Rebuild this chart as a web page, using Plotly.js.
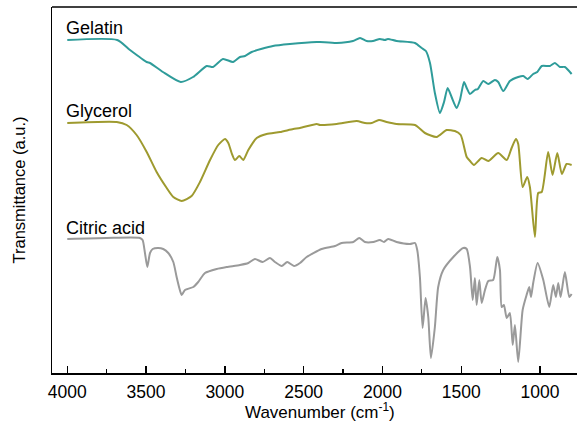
<!DOCTYPE html>
<html>
<head>
<meta charset="utf-8">
<script src="https://cdn.plot.ly/plotly-3.0.1.min.js"></script>
<style>
  html, body { margin: 0; padding: 0; background: #fff; overflow: hidden; }
  #chart { width: 577px; height: 423px; }
</style>
</head>
<body>
<div id="chart"></div>
<script>
// FTIR spectra, offset vertically (transmittance, arbitrary units)

const gelatinWn = [4000, 3683, 3602, 3496, 3475, 3393, 3280, 3202, 3115, 3075, 3012, 2948, 2904, 2872, 2830, 2695, 2587, 2417, 2396, 2290, 2187, 2142, 2100, 2060, 2016, 1984, 1965, 1910, 1793, 1751, 1724, 1698, 1667, 1635, 1609, 1586, 1561, 1529, 1508, 1482, 1465, 1444, 1413, 1394, 1360, 1328, 1286, 1265, 1233, 1191, 1138, 1106, 1078, 1043, 1017, 989, 937, 905, 873, 842, 799];
const gelatinT  = [333, 333, 323, 311, 310, 301, 291, 296, 307, 306, 314, 311, 316, 317, 321, 327, 329, 331, 331, 330, 332, 335, 332, 332, 334, 333, 334, 332, 330, 325, 322, 310, 280, 260, 271, 285, 276, 265, 273, 291, 285, 279, 283, 284, 292, 289, 293, 291, 282, 292, 296, 297, 294, 299, 301, 307, 307, 310, 306, 306, 299];

const glycerolWn = [4000, 3686, 3623, 3560, 3496, 3433, 3369, 3327, 3274, 3211, 3158, 3094, 3042, 2999, 2978, 2957, 2936, 2908, 2883, 2851, 2798, 2735, 2650, 2566, 2523, 2417, 2396, 2290, 2163, 2111, 2068, 2022, 1973, 1910, 1793, 1730, 1656, 1592, 1540, 1503, 1465, 1444, 1419, 1370, 1328, 1265, 1211, 1180, 1153, 1138, 1110, 1081, 1064, 1032, 1011, 989, 948, 920, 890, 861, 831, 799];
const glycerolT  = [250, 251, 248, 238, 221, 201, 185, 176, 172, 177, 191, 213, 228, 234, 230, 220, 213, 217, 213, 223, 235, 239, 241, 244, 245, 249, 248, 249, 252, 250, 250, 253, 251, 249, 248, 240, 236, 243, 242, 238, 216, 212, 208, 215, 212, 220, 213, 225, 234, 229, 186, 196, 186, 136, 180, 181, 221, 198, 220, 199, 209, 208];

const citricWn = [4000, 3750, 3539, 3522, 3507, 3492, 3475, 3458, 3423, 3391, 3359, 3327, 3306, 3289, 3274, 3253, 3200, 3169, 3126, 3052, 2988, 2904, 2851, 2809, 2760, 2714, 2682, 2639, 2604, 2561, 2523, 2481, 2386, 2301, 2259, 2185, 2147, 2111, 2058, 2016, 1990, 1963, 1910, 1825, 1793, 1779, 1762, 1745, 1726, 1709, 1692, 1667, 1646, 1614, 1550, 1487, 1465, 1444, 1427, 1413, 1402, 1385, 1370, 1349, 1328, 1297, 1271, 1254, 1243, 1229, 1211, 1191, 1173, 1159, 1138, 1110, 1085, 1068, 1057, 1043, 1015, 979, 941, 916, 899, 884, 869, 842, 814, 799];
const citricT  = [134, 135, 135, 133, 120, 106, 120, 124, 125, 124, 120, 111, 96, 85, 78, 83, 86, 91, 100, 104, 106, 108, 110, 114, 111, 115, 111, 107, 111, 107, 110, 116, 124, 127, 130, 131, 135, 131, 131, 133, 131, 134, 131, 129, 130, 123, 96, 45, 75, 56, 15, 46, 86, 103, 116, 125, 124, 106, 73, 95, 68, 93, 70, 83, 92, 93, 116, 103, 66, 68, 55, 60, 28, 48, 11, 63, 78, 86, 76, 90, 110, 93, 66, 88, 76, 90, 76, 101, 76, 79];

const seriesNames = ['Gelatin', 'Glycerol', 'Citric acid'];
const seriesColors = ['#2f9c9a', '#9e9a2f', '#9a9a9a'];
const labelLevels = [345, 262, 145];

const xTickVals = [4000, 3500, 3000, 2500, 2000, 1500, 1000];
const xTickText = ['4000', '3500', '3000', '2500', '2000', '1500', '1000'];
const xTitle = 'Wavenumber (cm<sup>-1</sup>)';

const font = 'Liberation Sans, Arial, sans-serif';

const data = [
  [gelatinWn, gelatinT],
  [glycerolWn, glycerolT],
  [citricWn, citricT]
].map(([x, y], i) => ({
  type: 'scatter',
  mode: 'lines',
  x: x,
  y: y,
  name: seriesNames[i],
  line: { color: seriesColors[i], width: 2, shape: 'spline', smoothing: 0.6 },
  hoverinfo: 'x+name'
}));

const annotations = seriesNames.map((name, i) => ({
  text: name,
  x: 4000,
  y: labelLevels[i],
  xref: 'x',
  yref: 'y',
  xanchor: 'left',
  yanchor: 'middle',
  xshift: -3,
  showarrow: false,
  font: { family: font, size: 18, color: '#000' }
}));

// x-axis title, placed below the tick labels
annotations.push({
  text: xTitle,
  xref: 'paper', yref: 'paper',
  x: 0.511, y: 0,
  xanchor: 'center', yanchor: 'middle',
  yshift: -38,
  showarrow: false,
  font: { family: font, size: 17, color: '#000' }
});

const layout = {
  width: 577,
  height: 423,
  margin: { l: 52, r: 0, t: 7, b: 50 },
  paper_bgcolor: '#fff',
  plot_bgcolor: '#fff',
  showlegend: false,
  font: { family: font, color: '#000' },
  xaxis: {
    range: [4097, 765],
    tickvals: xTickVals,
    ticktext: xTickText,
    ticks: 'inside',
    ticklen: 7,
    tickwidth: 1.3,
    tickcolor: '#000',
    ticklabelstandoff: 2,
    minor: { dtick: 250, tick0: 0, ticks: 'inside', ticklen: 4, tickwidth: 1.3, tickcolor: '#000' },
    showline: true,
    linecolor: '#000',
    linewidth: 1.5,
    showgrid: false,
    zeroline: false,
    tickfont: { family: font, size: 17.5, color: '#000' }
  },
  yaxis: {
    range: [0, 366],
    showticklabels: false,
    ticks: '',
    showline: true,
    linecolor: '#000',
    linewidth: 1.5,
    showgrid: false,
    zeroline: false,
    title: { text: 'Transmittance (a.u.)', font: { family: font, size: 16.5, color: '#000' }, standoff: 20 }
  },
  shapes: [{
    type: 'line', xref: 'paper', yref: 'paper',
    x0: 0, x1: 1, y0: 1, y1: 1,
    line: { color: '#000', width: 1.5 }
  }],
  annotations: annotations
};

Plotly.newPlot('chart', data, layout, { displayModeBar: false, staticPlot: true });
</script>
</body>
</html>
